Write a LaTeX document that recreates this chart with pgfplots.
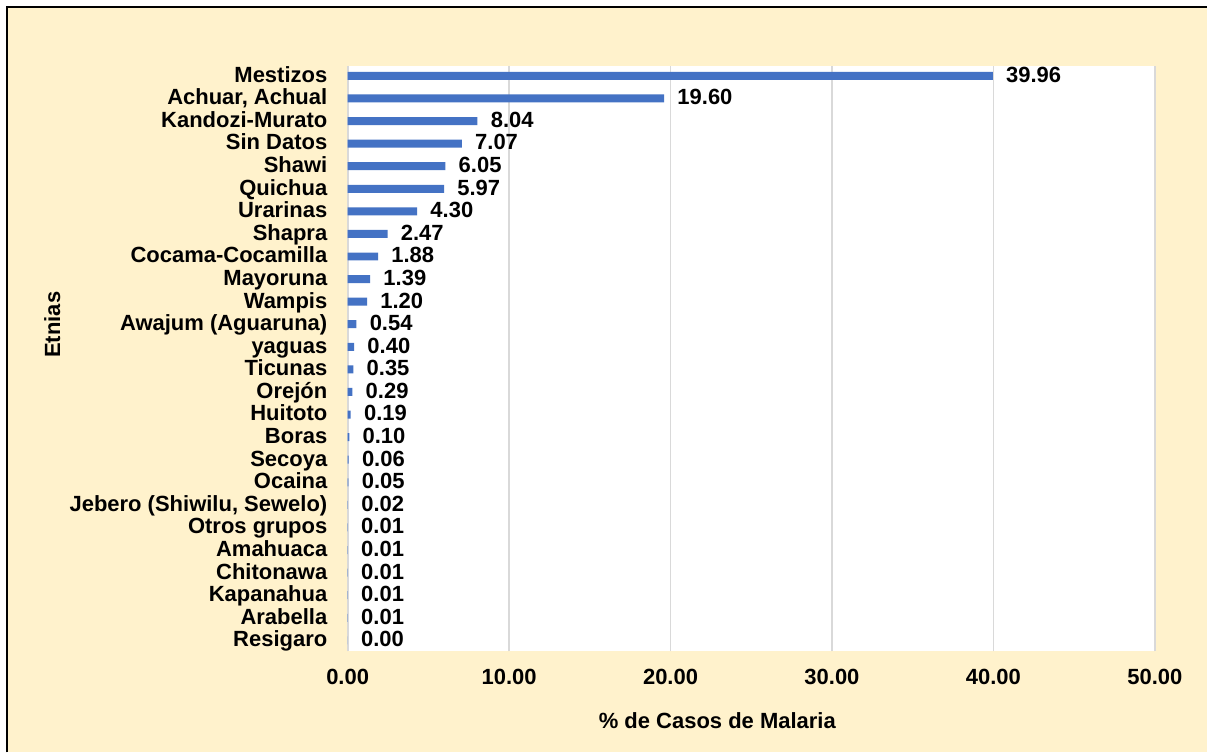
\documentclass[border=0pt]{standalone}
\usepackage{fontspec}
\setmainfont{Liberation Sans}
\usepackage{pgfplots}
\pgfplotsset{compat=1.18}
\definecolor{barblue}{HTML}{4472C4}
\definecolor{cream}{HTML}{FFF2CC}
\definecolor{gridgray}{HTML}{D9D9D9}
\begin{document}
\begin{tikzpicture}
  % page background and the left/top border of the chart frame
  \fill[white] (-174pt,-50.5pt) rectangle (430pt,326pt);
  \fill[cream] (-171pt,-50.5pt) rectangle (430pt,323pt);
  \draw[black, line width=1.2pt] (-170.6pt,-50.5pt) -- (-170.6pt,322.6pt) -- (430pt,322.6pt);
  \begin{axis}[
    at={(0,0)}, anchor=south west,
    scale only axis,
    width=404pt, height=293pt,
    xbar, bar width=4pt,
    xmin=0, xmax=50,
    ymin=-0.487, ymax=25.44,
    xtick={0,10,...,50},
    ytick={0,...,25},
    yticklabels={Resigaro,Arabella,Kapanahua,Chitonawa,Amahuaca,Otros grupos,
      {Jebero (Shiwilu, Sewelo)},Ocaina,Secoya~,Boras,Huitoto,Orejón,Ticunas,yaguas,
      Awajum (Aguaruna),Wampis,Mayoruna,Cocama-Cocamilla,Shapra,Urarinas,Quichua,
      Shawi,Sin Datos,Kandozi-Murato,{Achuar, Achual},Mestizos},
    axis background/.style={fill=white},
    axis line style={draw=none},
    major tick length=0pt,
    xmajorgrids=true,
    major grid style={gridgray, line width=0.9pt},
    /pgf/number format/assume math mode=true,
    xticklabel={\pgfmathprintnumber[fixed,fixed zerofill,precision=2]{\tick}},
    font=\bfseries\fontsize{11}{13}\selectfont,
    xticklabel style={anchor=center, yshift=-13pt, inner sep=0pt},
    yticklabel style={anchor=east, xshift=-10pt, inner sep=0pt,
      text height=8pt, text depth=0pt, yshift=0.8pt},
    xlabel={\% de Casos de Malaria},
    ylabel={Etnias},
    xlabel style={at={(axis description cs:0.458,-0.118)}, anchor=center},
    ylabel style={at={(axis description cs:-0.366,0.558)}, anchor=center, rotate=0},
    nodes near coords,
    nodes near coords style={anchor=west, xshift=6.5pt, inner sep=0pt,
      text height=8pt, text depth=0pt, yshift=0.8pt,
      /pgf/number format/.cd, fixed, fixed zerofill, precision=2},
  ]
    \addplot[draw=none, fill=barblue] coordinates {
      (0.00,0) (0.01,1) (0.01,2) (0.01,3) (0.01,4) (0.01,5)
      (0.02,6) (0.05,7) (0.06,8) (0.10,9) (0.19,10) (0.29,11)
      (0.35,12) (0.40,13) (0.54,14) (1.20,15) (1.39,16) (1.88,17)
      (2.47,18) (4.30,19) (5.97,20) (6.05,21) (7.07,22) (8.04,23)
      (19.60,24) (39.96,25)
    };
  \end{axis}
\end{tikzpicture}
\end{document}
